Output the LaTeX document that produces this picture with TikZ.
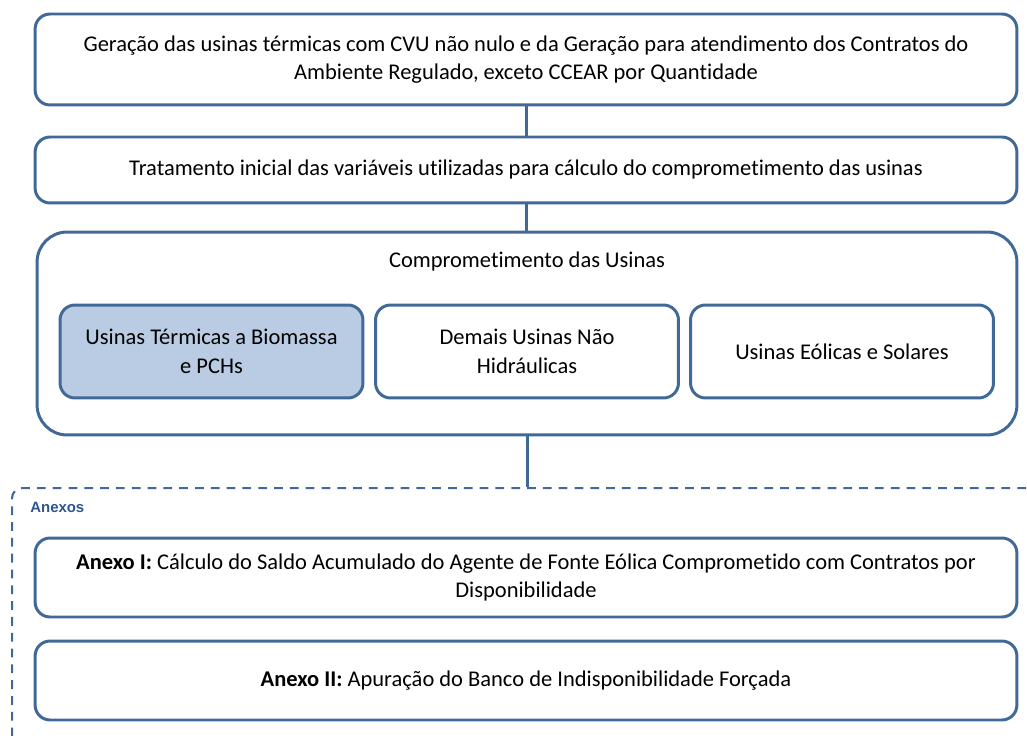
\documentclass[tikz,border=0pt]{standalone}
\usepackage{fontspec}
\setmainfont{Carlito}[Ligatures=CommonOff]
\newfontfamily\boldlabel{Liberation Sans}
\usetikzlibrary{positioning}

\definecolor{boxblue}{RGB}{65,105,152}
\definecolor{boxfill}{RGB}{185,204,228}
\definecolor{anexoblue}{RGB}{47,85,140}

\tikzset{
  stage/.style={draw=boxblue, line width=1.7pt, rounded corners=0.3cm, align=center,
    font=\fontsize{12.8}{16.3}\selectfont, inner sep=0pt, minimum width=19.64cm},
  plant/.style={stage, minimum width=6.06cm, minimum height=1.86cm},
  link/.style={draw=boxblue, line width=1.7pt}
}

\begin{document}
\begin{tikzpicture}[x=0.02cm,y=-0.02cm]

\clip (0,0) rectangle (1027,736);
\useasboundingbox (0,0) rectangle (1027,736);

% etapas principais
\node[stage, minimum height=1.82cm] (geracao) at (526,59.5)
  {Geração das usinas térmicas com CVU não nulo e da Geração para atendimento dos Contratos do\\
   Ambiente Regulado, exceto CCEAR por Quantidade};
\node[stage, minimum height=1.32cm] (tratamento) at (526,170)
  {Tratamento inicial das variáveis utilizadas para cálculo do comprometimento das usinas};
\node[stage, minimum width=19.6cm, minimum height=4.06cm, rounded corners=0.6cm] (usinas) at (527,333.5) {};
\node[font=\fontsize{12.8}{16.3}\selectfont] (titulo) at (527,262) {Comprometimento das Usinas};

\node[plant, fill=boxfill] (biomassa) at (211.5,351.5) {Usinas Térmicas a Biomassa\\ e PCHs};
\node[plant] (demais) at (527,351.5) {Demais Usinas Não\\ Hidráulicas};
\node[plant] (eolicas) at (842,351.5) {Usinas Eólicas e Solares};

% anexos
\node[draw=boxblue, line width=1.2pt, dashed, dash pattern=on 5pt off 4pt, rounded corners=0.2cm,
  minimum width=20.8cm, minimum height=5.8cm, anchor=north west] (anexos) at (11,487) {};
\node[anchor=west, inner sep=0pt, text=anexoblue, font=\boldlabel\bfseries\fontsize{8.5}{10}\selectfont] (anexostit) at (30,507) {Anexos};

\node[stage, minimum height=1.58cm] (anexo1) at (526,577.5)
  {\textbf{Anexo I:} Cálculo do Saldo Acumulado do Agente de Fonte Eólica Comprometido com Contratos por\\
   Disponibilidade};
\node[stage, minimum height=1.58cm] (anexo2) at (526,680.5)
  {\textbf{Anexo II:} Apuração do Banco de Indisponibilidade Forçada};

% ligacoes
\draw[link] (geracao.south) -- (tratamento.north);
\draw[link] (tratamento.south) -- (tratamento.south |- usinas.north);
\draw[link] (usinas.south) -- (usinas.south |- anexos.north);

\end{tikzpicture}
\end{document}
